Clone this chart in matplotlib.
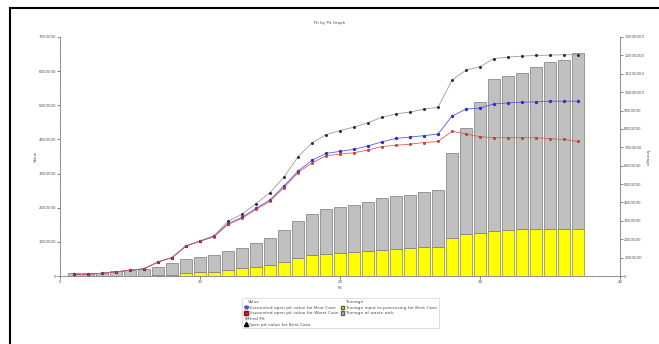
import numpy as np
import matplotlib
matplotlib.use("Agg")
import matplotlib.pyplot as plt
from matplotlib.lines import Line2D
from matplotlib.patches import Patch, Rectangle

# pit numbers
pits = list(range(1, 38))

# tonnage (right axis)
ore_tonnes = [0.0, 0.0, 0.0, 0.0, 0.01, 0.02, 0.04, 0.08, 0.15, 0.20,
              0.24, 0.33, 0.42, 0.51, 0.60, 0.76, 0.96, 1.15, 1.22, 1.26,
              1.31, 1.36, 1.41, 1.49, 1.52, 1.56, 1.60, 2.07, 2.27, 2.34,
              2.47, 2.52, 2.54, 2.58, 2.58, 2.58, 2.57]
waste_tonnes = [0.14, 0.15, 0.19, 0.27, 0.31, 0.37, 0.46, 0.62, 0.77, 0.84,
                0.90, 1.04, 1.13, 1.30, 1.48, 1.76, 2.02, 2.22, 2.41, 2.51,
                2.54, 2.67, 2.83, 2.86, 2.90, 3.01, 3.06, 4.61, 5.80, 7.13,
                8.23, 8.38, 8.49, 8.81, 9.06, 9.15, 9.58]

# values (left axis)
open_pit_best = [0.05, 0.05, 0.08, 0.12, 0.17, 0.21, 0.41, 0.54, 0.88, 1.03,
                 1.18, 1.60, 1.81, 2.12, 2.44, 2.90, 3.49, 3.90, 4.14, 4.26,
                 4.36, 4.49, 4.65, 4.75, 4.80, 4.89, 4.94, 5.74, 6.03, 6.13,
                 6.37, 6.41, 6.44, 6.46, 6.47, 6.48, 6.48]
disc_best = [0.05, 0.05, 0.08, 0.12, 0.17, 0.21, 0.41, 0.54, 0.88, 1.02,
             1.16, 1.53, 1.72, 1.98, 2.23, 2.64, 3.07, 3.39, 3.59, 3.65,
             3.71, 3.81, 3.93, 4.03, 4.07, 4.11, 4.16, 4.68, 4.89, 4.92,
             5.04, 5.07, 5.09, 5.10, 5.12, 5.12, 5.12]
disc_worst = [0.05, 0.05, 0.08, 0.12, 0.17, 0.21, 0.41, 0.54, 0.88, 1.02,
              1.15, 1.51, 1.69, 1.95, 2.19, 2.59, 3.03, 3.31, 3.52, 3.57,
              3.61, 3.69, 3.79, 3.83, 3.86, 3.91, 3.94, 4.24, 4.16, 4.08,
              4.05, 4.05, 4.05, 4.05, 4.02, 4.00, 3.94]

M = 1e6
fs = 3.5
tfs = 2.9
grey = "#909090"
txt = "#505050"

fig = plt.figure(figsize=(6.59, 3.44), dpi=100)
ax = fig.add_axes([60/659, 1-276/344, 560/659, 239/344])
ax2 = ax.twinx()
ax.set_zorder(ax2.get_zorder() + 1)
ax.patch.set_visible(False)

# stacked bars on tonnage axis
ore = np.array(ore_tonnes) * M
waste = np.array(waste_tonnes) * M
ax2.bar(pits, ore, width=0.8, color="#ffff00", edgecolor="#8a8a50", linewidth=0.5)
ax2.bar(pits, waste, bottom=ore, width=0.8, color="#c0c0c0", edgecolor="#7a7a7a", linewidth=0.5)

# value lines
ax.plot(pits, np.array(open_pit_best) * M, color="#9a9a9a", lw=0.6,
        marker="o", ms=1.2, mfc="#303030", mec="#303030")
ax.plot(pits, np.array(disc_best) * M, color="#5a5ae0", lw=0.6,
        marker="o", ms=1.4, mfc="#3030c0", mec="#3030c0")
ax.plot(pits, np.array(disc_worst) * M, color="#e05a5a", lw=0.6,
        marker="o", ms=1.7, mfc="#d04040", mec="#802020", mew=0.3)

ax.set_xlim(0, 40)
ax.set_ylim(0, 7 * M)
ax2.set_ylim(0, 13 * M)
ax.set_xticks([0, 10, 20, 30, 40])
ax.set_xticks(range(0, 41), minor=True)
ax.set_yticks(np.arange(0, 8) * M)
ax.set_yticks(np.arange(0, 7.5, 0.5) * M, minor=True)
ax2.set_yticks(np.arange(0, 14) * M)
ax2.set_yticks(np.arange(0, 13.5, 0.5) * M, minor=True)
ax.set_yticklabels([str(int(v)) for v in np.arange(0, 8) * M])
ax2.set_yticklabels([str(int(v)) for v in np.arange(0, 14) * M])

for a in (ax, ax2):
    a.tick_params(labelsize=tfs, colors=txt, length=2, width=0.5, pad=1)
    a.tick_params(which="minor", length=1, width=0.4, color=grey)
    for s in a.spines.values():
        s.set_color(grey)
        s.set_linewidth(0.6)
    a.spines["top"].set_visible(False)

ax.set_xlabel("Pit", fontsize=tfs, color=txt, labelpad=1)
ax.set_ylabel("Value", fontsize=tfs, color=txt)
ax.yaxis.set_label_coords(-22/560, 0.5)
ax2.set_ylabel("Tonnage", fontsize=tfs, color=txt, rotation=270, va="center")
ax2.yaxis.set_label_coords(1 + 27/560, (276-157)/239)
fig.text(330/659, 1-23/344, "Pit by Pit Graph", fontsize=tfs, color=txt, ha="center", va="center")

blank = Line2D([], [], linestyle="none")
handles = [blank,
           Line2D([], [], color="#5050e0", lw=0, marker="*", ms=3),
           Patch(facecolor="#e02020", edgecolor="#801010"),
           Line2D([], [], color="#a0a0a0", lw=0, marker="+", ms=3),
           Line2D([], [], color="black", lw=0, marker="^", ms=3),
           blank,
           Patch(facecolor="#ffff00", edgecolor="#606030"),
           Patch(facecolor="#c0c0c0", edgecolor="#606060"),
           blank, blank]
labels = ["Value",
          "Discounted open pit value for Best Case",
          "Discounted open pit value for Worst Case",
          "Final Pit",
          "Open pit value for Best Case",
          "Tonnage",
          "Tonnage input to processing for Best Case",
          "Tonnage of waste rock",
          "", ""]
leg = fig.legend(handles, labels, ncol=2, fontsize=3.2, loc="upper left",
                 bbox_to_anchor=(240/659, 1-296/344), frameon=True, fancybox=False,
                 edgecolor="#c8c8c8", handlelength=0.8, handleheight=0.8,
                 handletextpad=0.2, labelspacing=0.3, columnspacing=0.4,
                 borderpad=0.4)
leg.get_frame().set_linewidth(0.5)
for t in leg.get_texts():
    t.set_color(txt)

# outer frame
fig.patches.append(Rectangle((10/659, -0.05), 1.0, 1-7.5/344 + 0.05, transform=fig.transFigure,
                             fill=False, edgecolor="black", linewidth=1.5))

fig.savefig("out.png", dpi=100)
